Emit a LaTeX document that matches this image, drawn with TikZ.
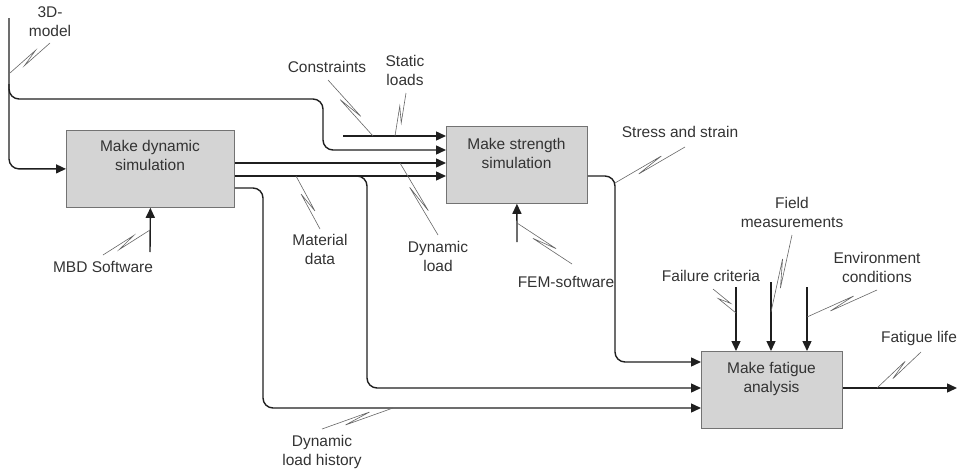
\documentclass[tikz,border=0pt]{standalone}
\usepackage{fontspec}
\setmainfont{Liberation Sans}
\usetikzlibrary{calc,arrows.meta}

% zig-zag leader from a label to the line it names
\newcommand\leader[2]{%
  \draw[squig] (#1) -- ($(#1)!0.68!(#2)!2.8pt!90:(#2)$)
    -- ($(#1)!0.32!(#2)!2.8pt!-90:(#2)$) -- (#2);}

\begin{document}
\begin{tikzpicture}[x=1pt,y=-1pt,
  flow/.style={draw=black!88, line width=1.4pt, rounded corners=10pt},
  arr/.style={flow, -{Triangle[length=10pt,width=9pt]}},
  box/.style={draw=black!55, fill=black!17, line width=0.8pt, anchor=north west, inner sep=0pt},
  lbl/.style={font=\fontsize{15.5}{19}\selectfont, text=black!80, align=center, inner sep=0pt},
  squig/.style={draw=black!60, line width=0.6pt}]
\useasboundingbox (0,0) rectangle (964,471);

% activity boxes
\node[box, minimum width=168pt, minimum height=77pt] (dyn) at (66,130) {};
\node[box, minimum width=141pt, minimum height=77pt] (str) at (446,126) {};
\node[box, minimum width=141pt, minimum height=77pt] (fat) at (701,351) {};
\node[lbl] (dynT) at (150,155.5) {Make dynamic\\simulation};
\node[lbl] (strT) at (516.5,153) {Make strength\\simulation};
\node[lbl] (fatT) at (771.5,379) {Make fatigue\\analysis};

% heights of the ports
\coordinate (y136) at (0,136);
\coordinate (y150) at (0,150);
\coordinate (y163) at (0,163);
\coordinate (y176) at (0,176);
\coordinate (y188) at (0,188);
\coordinate (y362) at (0,362);
\coordinate (y388) at (0,388);
\coordinate (y408) at (0,408);

% free ends and bends
\coordinate (m3d) at (9,18);
\coordinate (br3d) at (9,84);
\coordinate (bend3d) at (323,99);
\coordinate (cons) at (343,136);
\coordinate (brmat) at (352,176);
\coordinate (vmat) at (367,0);
\coordinate (vhist) at (263,0);
\coordinate (vstress) at (615,0);
\coordinate (mbd) at (150,252);
\coordinate (fem) at (517,242);
\coordinate (fail) at (736,287);
\coordinate (field) at (771,282);
\coordinate (env) at (807,287);
\coordinate (life) at (957,388);

% connectors
\draw[arr] (m3d) |- (dyn.west);
\draw[arr] (br3d) |- (bend3d) |- (str.west |- y150);
\draw[arr] (cons) -- (str.west |- y136);
\draw[arr] (dyn.east |- y163) -- (str.west |- y163);
\draw[arr] (dyn.east |- y176) -- (str.west |- y176);
\draw[arr] (brmat) -| (vmat |- y388) -- (fat.west |- y388);
\draw[arr] (dyn.east |- y188) -| (vhist |- y408) -- (fat.west |- y408);
\draw[arr] (str.east |- y176) -| (vstress |- y362) -- (fat.west |- y362);
\draw[arr] (fat.east |- y388) -- (life);
\draw[arr] (mbd) -- (dyn.south);
\draw[arr] (fem) -- (str.south);
\draw[arr] (fail) -- (fail |- fat.north);
\draw[arr] (field) -- (field |- fat.north);
\draw[arr] (env) -- (env |- fat.north);

% labels
\node[lbl] (l3d) at (50,22) {3D-\\model};
\node[lbl] (lcons) at (327,67) {Constraints};
\node[lbl] (lstat) at (405,70) {Static\\loads};
\node[lbl] (lstress) at (680,132) {Stress and strain};
\node[lbl] (lmat) at (320,249.5) {Material\\data};
\node[lbl] (ldyn) at (438,256) {Dynamic\\load};
\node[lbl] (lmbd) at (103,267) {MBD Software};
\node[lbl] (lfem) at (566,282) {FEM-software};
\node[lbl] (lfail) at (711,276) {Failure criteria};
\node[lbl] (lfield) at (792,212) {Field\\measurements};
\node[lbl] (lenv) at (877,267.5) {Environment\\conditions};
\node[lbl] (llife) at (919,338) {Fatigue life};
\node[lbl] (lhist) at (322,452) {Dynamic\\load history};

% leaders
\coordinate (a1) at (50,43);   \coordinate (b1) at (10,73);
\coordinate (a2) at (328,80);  \coordinate (b2) at (373,136);
\coordinate (a3) at (406,93);  \coordinate (b3) at (395,136);
\coordinate (a4) at (320,229); \coordinate (b4) at (296,176);
\coordinate (a5) at (438,235); \coordinate (b5) at (400,163);
\coordinate (a6) at (103,255); \coordinate (b6) at (150,230);
\coordinate (a7) at (572,264); \coordinate (b7) at (517,223);
\coordinate (a8) at (685,147); \coordinate (b8) at (615,183);
\coordinate (a9) at (713,289); \coordinate (b9) at (736,313);
\coordinate (a10) at (792,235); \coordinate (b10) at (771,312);
\coordinate (a11) at (877,290); \coordinate (b11) at (807,317);
\coordinate (a12) at (921,352); \coordinate (b12) at (877,388);
\coordinate (a13) at (322,429); \coordinate (b13) at (393,408);
\leader{a1}{b1}
\leader{a2}{b2}
\leader{a3}{b3}
\leader{a4}{b4}
\leader{a5}{b5}
\leader{a6}{b6}
\leader{a7}{b7}
\leader{a8}{b8}
\leader{a9}{b9}
\leader{a10}{b10}
\leader{a11}{b11}
\leader{a12}{b12}
\leader{a13}{b13}
\end{tikzpicture}
\end{document}
